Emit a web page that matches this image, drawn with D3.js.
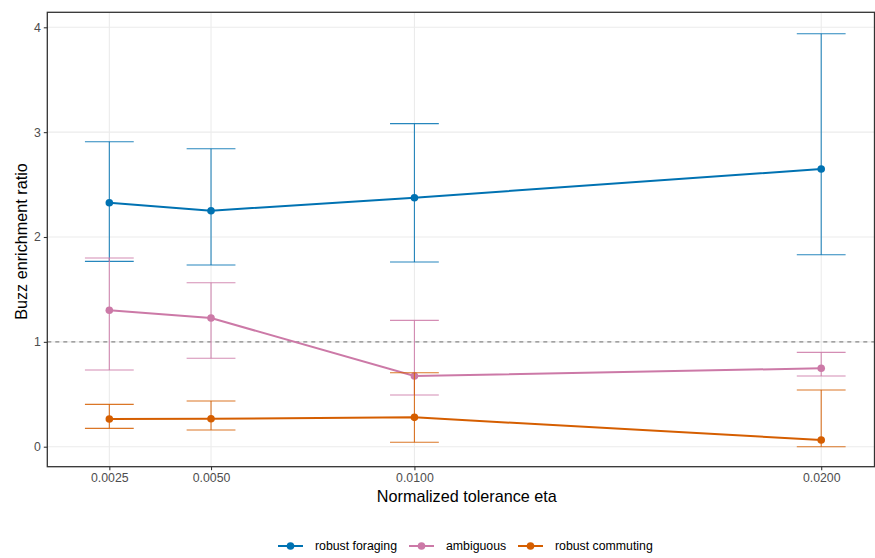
<!DOCTYPE html>
<html><head><meta charset="utf-8">
<script src="https://cdn.jsdelivr.net/npm/d3@7/dist/d3.min.js"></script>
<style>body{margin:0;background:#fff;} svg{display:block;font-family:"Liberation Sans",Arial,sans-serif;}</style>
</head><body>
<script>
const etaValues = [0.0025, 0.0050, 0.0100, 0.0200];
const xTickLabels = ["0.0025", "0.0050", "0.0100", "0.0200"];
const yTicks = [0, 1, 2, 3, 4];
const seriesNames = ["robust foraging", "ambiguous", "robust commuting"];
const seriesColors = ["#0072B2", "#CC79A7", "#D55E00"];
const foragingMean = [2.327, 2.251, 2.375, 2.649];
const foragingLow  = [1.768, 1.733, 1.762, 1.831];
const foragingHigh = [2.909, 2.842, 3.081, 3.939];
const ambiguousMean = [1.301, 1.227, 0.674, 0.748];
const ambiguousLow  = [0.732, 0.843, 0.493, 0.674];
const ambiguousHigh = [1.800, 1.564, 1.205, 0.900];
const commutingMean = [0.264, 0.267, 0.280, 0.064];
const commutingLow  = [0.175, 0.159, 0.042, 0.000];
const commutingHigh = [0.404, 0.436, 0.706, 0.541];
const referenceLine = 1;

const series = [
  {name: seriesNames[0], color: seriesColors[0], mean: foragingMean, low: foragingLow, high: foragingHigh},
  {name: seriesNames[1], color: seriesColors[1], mean: ambiguousMean, low: ambiguousLow, high: ambiguousHigh},
  {name: seriesNames[2], color: seriesColors[2], mean: commutingMean, low: commutingLow, high: commutingHigh}
];

const W = 875, H = 558;
const panel = {left: 47.3, right: 874.5, top: 12.3, bottom: 466.7};
const svg = d3.select("body").append("svg").attr("width", W).attr("height", H);

const x = d3.scaleLinear().domain([0.000975, 0.02131]).range([panel.left, panel.right]);
const y = d3.scaleLinear().domain([0, 4]).range([446.7, 27.3]);

// gridlines
const grid = svg.append("g");
grid.selectAll("line.gy").data(yTicks).join("line")
  .attr("x1", panel.left).attr("x2", panel.right)
  .attr("y1", d => y(d)).attr("y2", d => y(d))
  .attr("stroke", "#ebebeb").attr("stroke-width", 1.07);
grid.selectAll("line.gx").data(etaValues).join("line")
  .attr("y1", panel.top).attr("y2", panel.bottom)
  .attr("x1", d => x(d)).attr("x2", d => x(d))
  .attr("stroke", "#ebebeb").attr("stroke-width", 1.07);

// reference dashed line
svg.append("line")
  .attr("x1", panel.left).attr("x2", panel.right)
  .attr("y1", y(referenceLine)).attr("y2", y(referenceLine))
  .attr("stroke", "#888").attr("stroke-width", 1.1).attr("stroke-dasharray", "4,4");

const capHalf = 0.0006;
const plot = svg.append("g");
series.forEach(s => {
  const g = plot.append("g");
  const idx = d3.range(etaValues.length);
  g.selectAll("line.v").data(idx).join("line")
    .attr("x1", i => x(etaValues[i])).attr("x2", i => x(etaValues[i]))
    .attr("y1", i => y(s.low[i])).attr("y2", i => y(s.high[i]))
    .attr("stroke", s.color).attr("stroke-width", 1.1).attr("stroke-opacity", 0.85);
  g.selectAll("line.hi").data(idx).join("line")
    .attr("x1", i => x(etaValues[i] - capHalf)).attr("x2", i => x(etaValues[i] + capHalf))
    .attr("y1", i => y(s.high[i])).attr("y2", i => y(s.high[i]))
    .attr("stroke", s.color).attr("stroke-width", 1.1).attr("stroke-opacity", 0.85);
  g.selectAll("line.lo").data(idx).join("line")
    .attr("x1", i => x(etaValues[i] - capHalf)).attr("x2", i => x(etaValues[i] + capHalf))
    .attr("y1", i => y(s.low[i])).attr("y2", i => y(s.low[i]))
    .attr("stroke", s.color).attr("stroke-width", 1.1).attr("stroke-opacity", 0.85);
  g.append("path")
    .attr("d", d3.line().x(i => x(etaValues[i])).y(i => y(s.mean[i]))(idx))
    .attr("fill", "none").attr("stroke", s.color).attr("stroke-width", 2);
  g.selectAll("circle").data(idx).join("circle")
    .attr("cx", i => x(etaValues[i])).attr("cy", i => y(s.mean[i]))
    .attr("r", 3.8).attr("fill", s.color);
});

// panel border
svg.append("rect")
  .attr("x", panel.left).attr("y", panel.top)
  .attr("width", panel.right - panel.left).attr("height", panel.bottom - panel.top)
  .attr("fill", "none").attr("stroke", "#333").attr("stroke-width", 1.3);

// axes
const xAxis = d3.axisBottom(x).tickValues(etaValues).tickFormat((d, i) => xTickLabels[i]).tickSize(3.5).tickPadding(3);
const gx = svg.append("g").attr("transform", `translate(0,${panel.bottom})`).call(xAxis);
gx.select(".domain").remove();
gx.selectAll(".tick line").attr("stroke", "#333").attr("stroke-width", 1.07);
gx.selectAll(".tick text").attr("fill", "#4d4d4d").attr("font-size", "12.3px").attr("font-family", "Liberation Sans, Arial, sans-serif");

const yAxis = d3.axisLeft(y).tickValues(yTicks).tickFormat(d3.format("d")).tickSize(3.5).tickPadding(3);
const gy = svg.append("g").attr("transform", `translate(${panel.left},0)`).call(yAxis);
gy.select(".domain").remove();
gy.selectAll(".tick line").attr("stroke", "#333").attr("stroke-width", 1.07);
gy.selectAll(".tick text").attr("fill", "#4d4d4d").attr("font-size", "12.3px").attr("font-family", "Liberation Sans, Arial, sans-serif");

// axis titles
svg.append("text").attr("x", 466.8).attr("y", 501.5)
  .attr("text-anchor", "middle").attr("font-size", "16.2px").attr("fill", "#000")
  .text("Normalized tolerance eta");
svg.append("text").attr("transform", `translate(27,${(panel.top + panel.bottom) / 2 + 2}) rotate(-90)`)
  .attr("text-anchor", "middle").attr("font-size", "16.2px").attr("fill", "#000")
  .text("Buzz enrichment ratio");

// legend
const legendKeyX = [278, 409, 518];
const legend = svg.append("g");
series.forEach((s, i) => {
  const lg = legend.append("g").attr("transform", `translate(${legendKeyX[i]},546)`);
  lg.append("line").attr("x1", 0).attr("x2", 25).attr("y1", 0).attr("y2", 0)
    .attr("stroke", s.color).attr("stroke-width", 2);
  lg.append("circle").attr("cx", 12.5).attr("cy", 0).attr("r", 3.8).attr("fill", s.color);
  lg.append("text").attr("x", 37).attr("y", 4.3).attr("font-size", "12.3px").attr("fill", "#000").text(s.name);
});
</script>
</body></html>
